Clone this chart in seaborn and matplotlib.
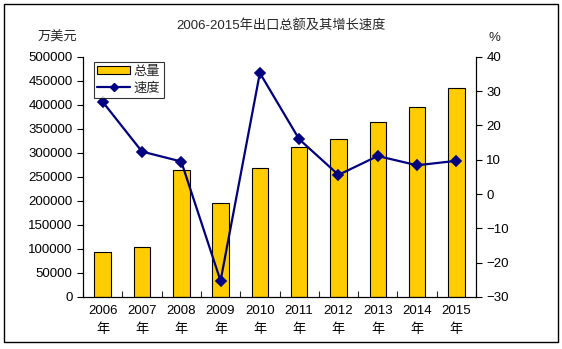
import matplotlib
matplotlib.use("Agg")
import matplotlib.pyplot as plt
import seaborn as sns
import pandas as pd
from matplotlib.patches import Rectangle, Patch
from matplotlib.lines import Line2D

years = ["2006", "2007", "2008", "2009", "2010", "2011", "2012", "2013", "2014", "2015"]
totals = [93000, 103500, 264000, 195000, 268000, 312000, 328500, 364000, 396000, 435000]
speed = [26.9, 12.4, 9.5, -25.3, 35.3, 16.0, 5.6, 11.1, 8.4, 9.7]
labels = [y + "\n年" for y in years]

sns.set_theme(style="white")
plt.rcParams["font.family"] = ["Liberation Sans", "Noto Sans CJK SC", "DejaVu Sans"]

df = pd.DataFrame({"year": labels, "total": totals, "speed": speed})

fig = plt.figure(figsize=(5.62, 3.49), dpi=100)
fig.patch.set_facecolor("white")
ax = fig.add_axes([0.1477, 0.149, 0.6993, 0.688])

sns.barplot(data=df, x="year", y="total", color="#FFCC00", edgecolor="black",
            linewidth=0.8, width=0.42, saturation=1, ax=ax)
ax2 = ax.twinx()
sns.pointplot(data=df, x="year", y="speed", color="#000080", markers="D",
              markersize=5, linewidth=1.6, ax=ax2)

ax.set_xlim(-0.5, 9.5)
ax.set_ylim(0, 500000)
ax.set_yticks(range(0, 500001, 50000))
ax2.set_ylim(-30, 40)
ax2.set_yticks(range(-30, 41, 10))
ax.set_xlabel("")
ax.set_ylabel("")
ax2.set_xlabel("")
ax2.set_ylabel("")

for a in (ax, ax2):
    for s in a.spines.values():
        s.set_color("black")
        s.set_linewidth(0.8)
ax.spines["top"].set_visible(False)
ax2.spines["top"].set_visible(False)

ax.tick_params(axis="y", which="both", direction="out", length=4, width=0.8, colors="black",
               labelsize=9.5, left=True)
ax2.tick_params(axis="y", direction="out", length=4, width=0.8, colors="black",
                labelsize=9.5, right=True)
ax.set_xticks([i + 0.5 for i in range(-1, 10)], minor=True)
ax.tick_params(axis="x", which="major", length=0, labelsize=9.5, pad=6, colors="black")
ax.tick_params(axis="x", which="minor", direction="in", length=4, width=0.8, bottom=True)
for t in ax.get_xticklabels():
    t.set_linespacing(1.6)

handles = [Patch(facecolor="#FFCC00", edgecolor="black", linewidth=0.8),
           Line2D([0], [0], color="#000080", marker="D", markersize=4, linewidth=1.6)]
leg = ax2.legend(handles, ["总量", "速度"], loc="upper left", bbox_to_anchor=(0.02, 0.99),
                 frameon=True, fancybox=False, edgecolor="black", fontsize=9.5,
                 handlelength=2.5, handleheight=0.5, borderpad=0.3, labelspacing=0.3,
                 handletextpad=0.2, borderaxespad=0.2)
leg.get_frame().set_linewidth(0.8)

fig.text(0.5, 0.928, "2006-2015年出口总额及其增长速度", ha="center", va="center", fontsize=9.5)
fig.text(0.103, 0.892, "万美元", ha="center", va="center", fontsize=9.5)
fig.text(0.879, 0.892, "%", ha="center", va="center", fontsize=9.5)

fig.add_artist(Rectangle((0.007, 0.02), 0.985, 0.968, transform=fig.transFigure,
                         fill=False, edgecolor="black", linewidth=1.0))

fig.savefig("out.png", dpi=100)
